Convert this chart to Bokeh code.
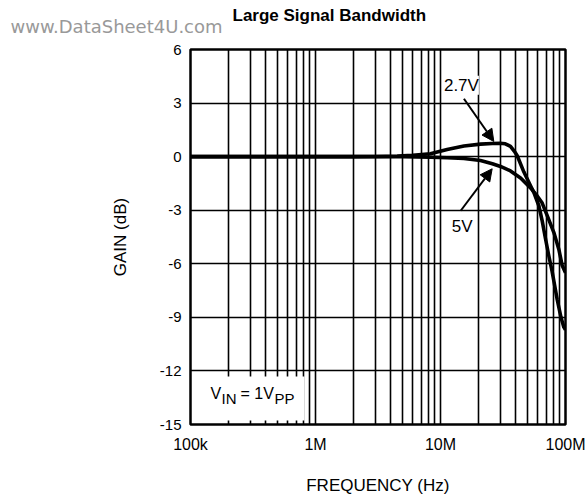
import math
from bokeh.plotting import figure
from bokeh.models import Range1d, FixedTicker, Label, Arrow, NormalHead, BoxAnnotation, Title
from bokeh.embed import file_html
from bokeh.resources import INLINE

# ---- data ----
freq_27 = [1e5, 3e5, 1e6, 2e6, 3e6, 4.5e6, 6e6, 8.3e6, 11.3e6, 15.4e6, 20.9e6, 26e6, 30e6,
           33e6, 36.3e6, 39e6, 41.1e6, 46.4e6, 52.5e6, 55.8e6, 61.2e6, 65.1e6, 69.2e6,
           73.5e6, 78e6, 85.8e6, 92e6, 97e6, 100e6]
gain_27 = [0, 0, 0, 0, 0.01, 0.03, 0.08, 0.16, 0.4, 0.6, 0.7, 0.74, 0.75,
           0.72, 0.58, 0.3, 0.05, -0.85, -1.63, -2.0, -2.75, -3.6, -4.6,
           -5.55, -6.4, -8.0, -9.0, -9.55, -9.7]

freq_5 = [1e5, 1e6, 3e6, 5e6, 8.3e6, 11.3e6, 15.4e6, 20.9e6, 26e6, 30.2e6, 36.3e6,
          43.7e6, 52.5e6, 59.4e6, 65.1e6, 71.4e6, 80.6e6, 88.4e6, 94.1e6, 100e6]
gain_5 = [0, 0, 0, -0.01, -0.03, -0.06, -0.1, -0.22, -0.4, -0.55, -0.8,
          -1.2, -1.75, -2.2, -2.6, -3.3, -4.24, -5.18, -6.1, -6.5]

y_ticks = [-15, -12, -9, -6, -3, 0, 3, 6]
y_tick_labels = ["-15", "-12", "-9", "-6", "-3", "0", "3", "6"]
x_ticks = [1e5, 1e6, 1e7, 1e8]
x_tick_labels = ["100k", "1M", "10M", "100M"]
x_minor_ticks = [m * 10 ** e for e in (5, 6, 7) for m in range(2, 10)]

series_labels = ["2.7V", "5V"]
label_pos_f = [14.7e6, 14.9e6]
label_pos_db = [4.0, -3.9]
arrow_start_f = [15.4e6, 14.5e6]
arrow_start_db = [3.24, -3.03]
arrow_end_f = [26.7e6, 25.9e6]
arrow_end_db = [0.85, -0.68]

FONT = "Liberation Sans"

p = figure(width=587, height=499, x_axis_type="log",
           x_range=Range1d(1e5, 1e8), y_range=Range1d(-15, 6),
           output_backend="svg", toolbar_location=None, title=None,
           min_border_left=190, min_border_right=22,
           min_border_top=49, min_border_bottom=75)
p.background_fill_color = "white"
p.border_fill_color = "white"
p.outline_line_color = "black"
p.outline_line_width = 2.5

# axes
p.xaxis.ticker = FixedTicker(ticks=x_ticks, minor_ticks=x_minor_ticks)
p.xaxis.major_label_overrides = {t: s for t, s in zip(x_ticks, x_tick_labels)}
p.yaxis.ticker = FixedTicker(ticks=y_ticks)
p.yaxis.major_label_overrides = {t: s for t, s in zip(y_ticks, y_tick_labels)}
for ax in (p.xaxis, p.yaxis):
    ax.axis_line_color = None
    ax.major_tick_line_color = None
    ax.minor_tick_line_color = None
    ax.major_label_text_font = FONT
    ax.major_label_text_color = "black"
    ax.axis_label_text_font = FONT
    ax.axis_label_text_font_size = "17px"
    ax.axis_label_text_font_style = "normal"
    ax.axis_label_text_color = "black"
p.xaxis.major_label_text_font_size = "16px"
p.yaxis.major_label_text_font_size = "15px"
p.xaxis.major_label_standoff = 5
p.yaxis.major_label_standoff = 3
p.xaxis.axis_label = "FREQUENCY (Hz)"
p.yaxis.axis_label = "GAIN (dB)"
p.xaxis.axis_label_standoff = 20
p.yaxis.axis_label_standoff = 27

# grids
p.xgrid.ticker = p.xaxis.ticker
p.ygrid.ticker = p.yaxis.ticker
p.xgrid.grid_line_color = "black"
p.xgrid.grid_line_width = 1.6
p.xgrid.minor_grid_line_color = "black"
p.xgrid.minor_grid_line_width = 1.6
p.ygrid.grid_line_color = "black"
p.ygrid.grid_line_width = 1.6

# curves
p.line(freq_5, gain_5, line_color="black", line_width=3.6, line_join="round")
p.line(freq_27, gain_27, line_color="black", line_width=3.6, line_join="round")

# arrows + series labels
for i in range(2):
    p.add_layout(Arrow(x_start=arrow_start_f[i], y_start=arrow_start_db[i],
                       x_end=arrow_end_f[i], y_end=arrow_end_db[i],
                       line_color="black", line_width=2,
                       end=NormalHead(size=12, fill_color="black", line_color="black")))
    p.add_layout(Label(x=label_pos_f[i], y=label_pos_db[i], text=series_labels[i],
                       text_align="center", text_baseline="alphabetic",
                       text_font=FONT, text_font_size="17px", text_color="black",
                       background_fill_color="white"))

# V_IN annotation box
p.add_layout(BoxAnnotation(left=2, right=114, bottom=4, top=48,
                           left_units="screen", right_units="screen",
                           bottom_units="screen", top_units="screen",
                           fill_color="white", fill_alpha=1.0, line_color=None))
vin_parts = [("V", 20, 31.5, "16px"), ("IN", 31, 26.5, "15px"),
             ("= 1V", 50, 31.5, "16px"), ("PP", 84, 26.5, "15px")]
for txt, fx, fy, fs in vin_parts:
    p.add_layout(Label(x=fx, y=fy, x_units="screen", y_units="screen", text=txt,
                       text_align="left", text_baseline="alphabetic",
                       text_font=FONT, text_font_size=fs, text_color="black"))

# watermark (inner, next to the frame) and main title (outer)
p.add_layout(Title(text="www.DataSheet4U.com", align="left", offset=-180,
                   standoff=25, vertical_align="bottom", text_font="DejaVu Sans",
                   text_font_size="18px", text_font_style="normal",
                   text_color="#999999"), "above")
p.add_layout(Title(text="Large Signal Bandwidth", align="left", offset=42,
                   standoff=-47, vertical_align="bottom", text_font=FONT,
                   text_font_size="17px", text_font_style="bold",
                   text_color="black"), "above")

open("out.html", "w").write(file_html(p, INLINE))
